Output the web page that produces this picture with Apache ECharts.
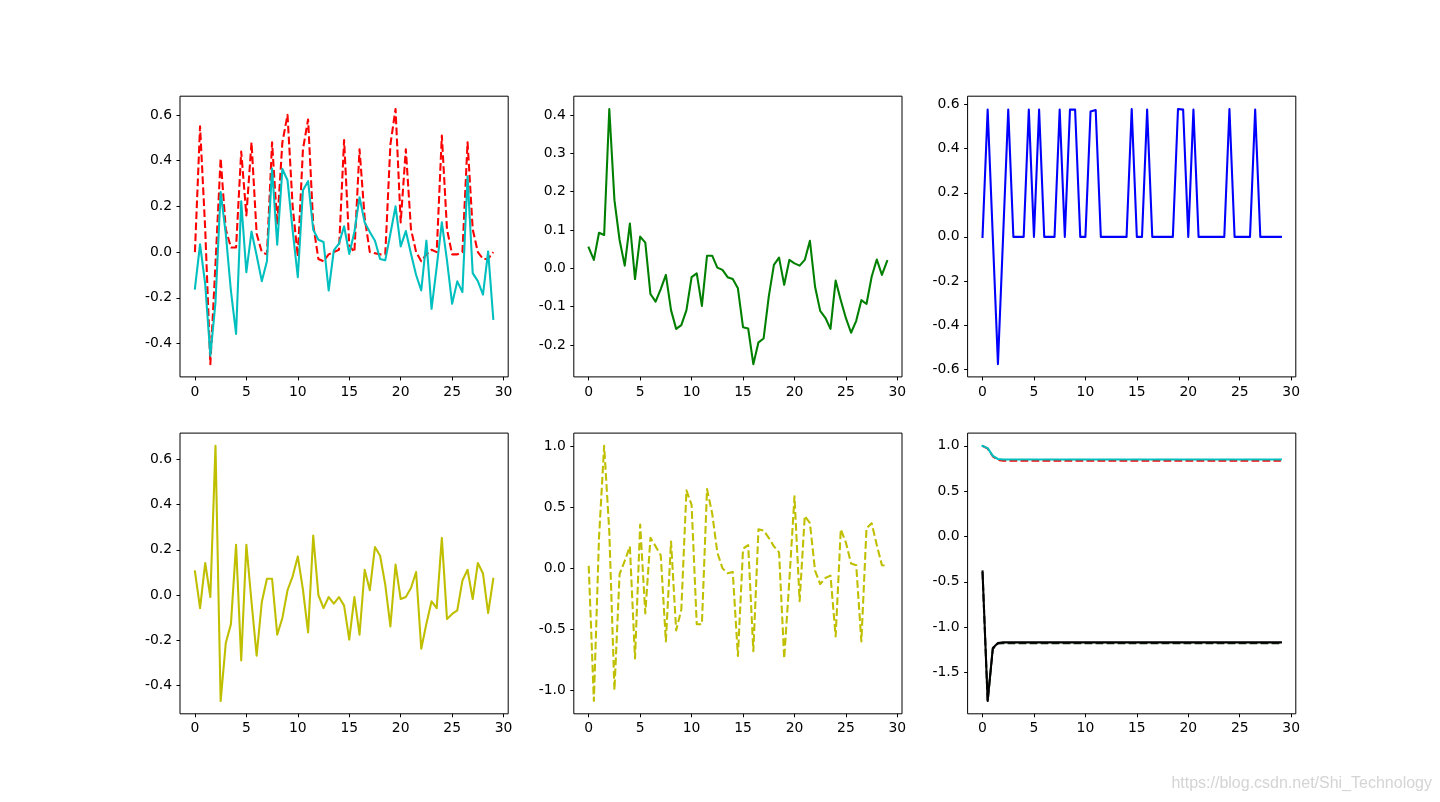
<!DOCTYPE html>
<html><head><meta charset="utf-8">
<script src="https://cdn.jsdelivr.net/npm/echarts@6/dist/echarts.min.js"></script>
<style>html,body{margin:0;padding:0;background:#fff}#c{width:1440px;height:802px}</style>
</head><body><div id="c"></div>
<script>
const xs = [0,0.5,1,1.5,2,2.5,3,3.5,4,4.5,
  5,5.5,6,6.5,7,7.5,8,8.5,9,9.5,
  10,10.5,11,11.5,12,12.5,13,13.5,14,14.5,
  15,15.5,16,16.5,17,17.5,18,18.5,19,19.5,
  20,20.5,21,21.5,22,22.5,23,23.5,24,24.5,
  25,25.5,26,26.5,27,27.5,28,28.5,29];

const tlRed = [0.0,0.55,0.1,-0.49,-0.05,0.41,0.1,0.02,0.02,0.44,
  0.16,0.48,0.08,0.0,-0.01,0.48,0.12,0.48,0.6,0.2,
  -0.02,0.45,0.58,0.12,-0.03,-0.04,-0.01,0.0,0.01,0.49,
  0.03,0.0,0.45,0.15,0.0,-0.005,-0.01,-0.01,0.47,0.626,
  0.13,0.45,0.1,0.0,-0.04,-0.01,0.01,0.0,0.51,0.1,
  -0.01,-0.01,0.0,0.48,0.1,0.0,-0.03,-0.03,0.0];
const tlCyan = [-0.16,0.034,-0.14,-0.453,-0.22,0.263,0.08,-0.17,-0.358,0.222,
  -0.088,0.09,-0.015,-0.127,-0.04,0.365,0.032,0.364,0.314,0.095,
  -0.11,0.27,0.31,0.098,0.054,0.044,-0.168,0.007,0.037,0.113,
  -0.008,0.088,0.24,0.13,0.088,0.05,-0.03,-0.036,0.08,0.2,
  0.025,0.092,-0.007,-0.1,-0.168,0.05,-0.248,-0.066,0.13,-0.036,
  -0.226,-0.128,-0.175,0.332,-0.092,-0.127,-0.186,0.003,-0.292];
const tmGreen = [0.054,0.022,0.093,0.087,0.416,0.178,0.074,0.007,0.117,-0.028,
  0.083,0.067,-0.067,-0.087,-0.054,-0.017,-0.109,-0.158,-0.148,-0.109,
  -0.023,-0.013,-0.098,0.033,0.033,0.002,-0.004,-0.023,-0.028,-0.052,
  -0.154,-0.157,-0.25,-0.193,-0.183,-0.074,0.009,0.028,-0.043,0.022,
  0.013,0.007,0.022,0.072,-0.048,-0.111,-0.129,-0.158,-0.032,-0.083,
  -0.13,-0.168,-0.137,-0.083,-0.093,-0.022,0.023,-0.017,0.019];
const trBlue = [0,0.577,0,-0.577,0,0.577,0,0,0,0.577,
  0,0.577,0,0,0,0.577,0,0.577,0.577,0,
  0,0.568,0.575,0,0,0,0,0,0,0.58,
  0,0,0.577,0,0,0,0,0,0.58,0.577,
  0,0.577,0,0,0,0,0,0,0.58,0,
  0,0,0,0.577,0,0,0,0,0];
const blYellow = [0.105,-0.058,0.142,-0.009,0.661,-0.47,-0.213,-0.129,0.223,-0.29,
  0.223,-0.03,-0.269,-0.031,0.072,0.072,-0.176,-0.102,0.021,0.083,
  0.171,0.024,-0.166,0.263,0.0,-0.058,-0.009,-0.038,-0.009,-0.047,
  -0.198,-0.009,-0.176,0.112,0.021,0.213,0.174,0.046,-0.139,0.135,
  -0.018,-0.009,0.031,0.102,-0.238,-0.127,-0.028,-0.058,0.253,-0.106,
  -0.084,-0.068,0.064,0.112,-0.018,0.142,0.095,-0.08,0.072];
const bmYellow = [0.02,-1.09,0.25,1.005,0.3,-1.0,-0.047,0.06,0.18,-0.74,
  0.36,-0.37,0.25,0.18,0.107,-0.6,0.22,-0.51,-0.34,0.64,
  0.52,-0.46,-0.46,0.65,0.45,0.13,0.0,-0.04,-0.03,-0.72,
  0.16,0.19,-0.68,0.32,0.31,0.25,0.18,0.13,-0.74,-0.1,
  0.59,-0.27,0.43,0.37,-0.02,-0.13,-0.08,-0.06,-0.56,0.32,
  0.21,0.04,0.025,-0.6,0.33,0.37,0.19,0.025,0.02];
const brRed = [1.0,0.97,0.885,0.845,0.837,0.837,0.837,0.837,0.837,0.837,
  0.837,0.837,0.837,0.837,0.837,0.837,0.837,0.837,0.837,0.837,
  0.837,0.837,0.837,0.837,0.837,0.837,0.837,0.837,0.837,0.837,
  0.837,0.837,0.837,0.837,0.837,0.837,0.837,0.837,0.837,0.837,
  0.837,0.837,0.837,0.837,0.837,0.837,0.837,0.837,0.837,0.837,
  0.837,0.837,0.837,0.837,0.837,0.837,0.837,0.837,0.837];
const brCyan = [1.0,0.975,0.89,0.855,0.85,0.85,0.85,0.85,0.85,0.85,
  0.85,0.85,0.85,0.85,0.85,0.85,0.85,0.85,0.85,0.85,
  0.85,0.85,0.85,0.85,0.85,0.85,0.85,0.85,0.85,0.85,
  0.85,0.85,0.85,0.85,0.85,0.85,0.85,0.85,0.85,0.85,
  0.85,0.85,0.85,0.85,0.85,0.85,0.85,0.85,0.85,0.85,
  0.85,0.85,0.85,0.85,0.85,0.85,0.85,0.85,0.85];
const brDash = [-0.39,-1.81,-1.24,-1.18,-1.175,-1.175,-1.175,-1.175,-1.175,-1.175,
  -1.175,-1.175,-1.175,-1.175,-1.175,-1.175,-1.175,-1.175,-1.175,-1.175,
  -1.175,-1.175,-1.175,-1.175,-1.175,-1.175,-1.175,-1.175,-1.175,-1.175,
  -1.175,-1.175,-1.175,-1.175,-1.175,-1.175,-1.175,-1.175,-1.175,-1.175,
  -1.175,-1.175,-1.175,-1.175,-1.175,-1.175,-1.175,-1.175,-1.175,-1.175,
  -1.175,-1.175,-1.175,-1.175,-1.175,-1.175,-1.175,-1.175,-1.175];
const brBlack = [-0.385,-1.814,-1.23,-1.175,-1.167,-1.167,-1.167,-1.167,-1.167,-1.167,
  -1.167,-1.167,-1.167,-1.167,-1.167,-1.167,-1.167,-1.167,-1.167,-1.167,
  -1.167,-1.167,-1.167,-1.167,-1.167,-1.167,-1.167,-1.167,-1.167,-1.167,
  -1.167,-1.167,-1.167,-1.167,-1.167,-1.167,-1.167,-1.167,-1.167,-1.167,
  -1.167,-1.167,-1.167,-1.167,-1.167,-1.167,-1.167,-1.167,-1.167,-1.167,
  -1.167,-1.167,-1.167,-1.167,-1.167,-1.167,-1.167,-1.167,-1.167];

const xTicks = [0,5,10,15,20,25,30];
const yTicksTL = [-0.4,-0.2,0.0,0.2,0.4,0.6];
const yTicksTM = [-0.2,-0.1,0.0,0.1,0.2,0.3,0.4];
const yTicksTR = [-0.6,-0.4,-0.2,0.0,0.2,0.4,0.6];
const yTicksBL = [-0.4,-0.2,0.0,0.2,0.4,0.6];
const yTicksBM = [-1.0,-0.5,0.0,0.5,1.0];
const yTicksBR = [-1.5,-1.0,-0.5,0.0,0.5,1.0];

const C = {r:'#ff0000', c:'#00bfbf', g:'#008000', b:'#0000ff', y:'#bfbf00', k:'#000000'};
const DASH = [7.7,3.3];
const LW = 2.08;
const FONT = 'DejaVu Sans';

// layout (matplotlib default subplot params)
const colLeft = [180, 573.8, 967.6], colW = 328.2;
const rowTop = [96.2, 433.1], rowH = 280.7;

const panels = [
  {row:0,col:0,yt:yTicksTL,lines:[{d:tlRed,c:C.r,dash:true},{d:tlCyan,c:C.c}]},
  {row:0,col:1,yt:yTicksTM,lines:[{d:tmGreen,c:C.g}]},
  {row:0,col:2,yt:yTicksTR,lines:[{d:trBlue,c:C.b}]},
  {row:1,col:0,yt:yTicksBL,lines:[{d:blYellow,c:C.y}]},
  {row:1,col:1,yt:yTicksBM,lines:[{d:bmYellow,c:C.y,dash:true}]},
  {row:1,col:2,yt:yTicksBR,lines:[{d:brRed,c:C.r,dash:true},{d:brCyan,c:C.c},{d:brDash,c:'#1a2e1a',dash:true},{d:brBlack,c:C.k}]}
];

function rng(arrs){
  let mn=Infinity,mx=-Infinity;
  arrs.forEach(a=>a.forEach(v=>{if(v<mn)mn=v;if(v>mx)mx=v;}));
  const m=(mx-mn)*0.05; return [mn-m,mx+m];
}
function fmtY(v){ const s=Math.abs(v).toFixed(1); return (v< -1e-9?'-':'')+s; }
function fmtX(v){ return String(Math.round(v)); }

const grid=[],xAxis=[],yAxis=[],series=[];
panels.forEach((p,i)=>{
  grid.push({left:colLeft[p.col],top:rowTop[p.row],width:colW,height:rowH,
    show:true,borderColor:'#000',borderWidth:1,backgroundColor:'#fff',containLabel:false});
  const xr=[xs[0]-(xs[xs.length-1]-xs[0])*0.05, xs[xs.length-1]+(xs[xs.length-1]-xs[0])*0.05];
  xAxis.push({type:'value',gridIndex:i,min:xr[0],max:xr[1],
    axisLine:{show:false,onZero:false},splitLine:{show:false},
    axisTick:{show:true,length:3.5,lineStyle:{color:'#000',width:1},customValues:xTicks},
    axisLabel:{customValues:xTicks,color:'#000',fontFamily:FONT,fontSize:13.9,margin:8,formatter:fmtX}});
  const yr=rng(p.lines.map(l=>l.d));
  yAxis.push({type:'value',gridIndex:i,min:yr[0],max:yr[1],
    axisLine:{show:false,onZero:false},splitLine:{show:false},
    axisTick:{show:true,length:3.5,lineStyle:{color:'#000',width:1},customValues:p.yt},
    axisLabel:{customValues:p.yt,color:'#000',fontFamily:FONT,fontSize:13.9,margin:8,formatter:fmtY}});
  p.lines.forEach((l,k)=>{
    series.push({type:'line',xAxisIndex:i,yAxisIndex:i,z:2+k,silent:true,
      showSymbol:false,symbol:'none',
      data:xs.map((x,j)=>[x,l.d[j]]),
      lineStyle:{color:l.c,width:LW,type:l.dash?DASH:'solid',cap:l.dash?'butt':'square',join:'round'}});
  });
});

const chart=echarts.init(document.getElementById('c'),null,{renderer:'canvas'});
chart.setOption({
  animation:false,backgroundColor:'#fff',
  grid,xAxis,yAxis,series,
  graphic:[{type:'text',right:8,top:776,silent:true,
    style:{text:'https://blog.csdn.net/Shi_Technology',fill:'#d4d4d4',font:'16px "Liberation Sans", Arial, sans-serif'}}]
});
</script></body></html>
